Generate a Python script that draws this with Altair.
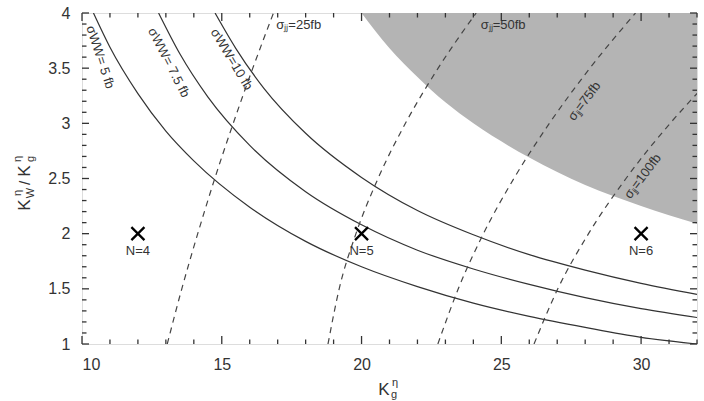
import altair as alt
import pandas as pd

# ---- data ----
ww5_x = [10.41, 11, 12, 13, 14, 16, 18, 20, 22, 24, 26, 28, 30, 32]
ww5_y = [4.0, 3.69, 3.27, 2.93, 2.66, 2.24, 1.93, 1.70, 1.52, 1.37, 1.25, 1.15, 1.06, 1.0]
ww75_x = [12.74, 13.5, 14.5, 16, 18, 20, 22, 24, 26, 28, 30, 32]
ww75_y = [4.0, 3.63, 3.24, 2.80, 2.38, 2.08, 1.85, 1.68, 1.54, 1.42, 1.32, 1.24]
ww10_x = [14.76, 15.5, 16.5, 18, 20, 22, 24, 26, 28, 30, 32]
ww10_y = [4.0, 3.68, 3.32, 2.91, 2.51, 2.21, 1.99, 1.81, 1.67, 1.55, 1.45]

jj_y = [1.0, 1.5, 2.0, 2.5, 3.0, 3.5, 4.0]
jj25_x = [13.05, 13.57, 14.14, 14.75, 15.41, 16.11, 16.85]
jj50_x = [18.8, 19.2, 19.8, 20.59, 21.57, 22.74, 24.1]
jj75_x = [22.73, 23.46, 24.36, 25.45, 26.72, 28.17, 29.8]
jj100_y = [1.0, 1.5, 2.0, 2.5, 3.0, 3.3]
jj100_x = [26.17, 27.02, 28.12, 29.46, 31.04, 32.11]

shade_x = [20, 21, 22, 23, 24, 26, 28, 30, 32]
shade_y = [4.0, 3.68, 3.42, 3.19, 3.0, 2.69, 2.44, 2.25, 2.09]

pts_x = [12, 20, 30]
pts_y = [2, 2, 2]
pts_lab = ["N=4", "N=5", "N=6"]

ww_lab = ["σWW= 5 fb", "σWW= 7.5 fb", "σWW=10 fb"]
ww_lab_x = [10.65, 13.1, 15.35]
ww_lab_y = [3.60, 3.55, 3.58]
ww_lab_ang = [72, 63, 59]

jj_lab = ["σⱼⱼ=25fb", "σⱼⱼ=50fb"]
jj_lab_x = [16.95, 24.26]
jj_lab_y = [3.89, 3.89]

jj_rot_lab = ["σⱼⱼ=75fb", "σⱼⱼ=100fb"]
jj_rot_x = [27.97, 30.06]
jj_rot_y = [3.2, 2.52]
jj_rot_ang = [307, 307]

x_major = [10, 15, 20, 25, 30]
x_minor = [v for v in range(10, 33) if v not in x_major]
y_major = [1, 1.5, 2, 2.5, 3, 3.5, 4]
y_minor = [round(1 + 0.1 * i, 1) for i in range(31) if i % 5 != 0]

# ---- tables ----
solid = pd.concat([
    pd.DataFrame({"x": ww5_x, "y": ww5_y, "c": "5"}),
    pd.DataFrame({"x": ww75_x, "y": ww75_y, "c": "7.5"}),
    pd.DataFrame({"x": ww10_x, "y": ww10_y, "c": "10"}),
])
dashed = pd.concat([
    pd.DataFrame({"x": jj25_x, "y": jj_y, "c": "25"}),
    pd.DataFrame({"x": jj50_x, "y": jj_y, "c": "50"}),
    pd.DataFrame({"x": jj75_x, "y": jj_y, "c": "75"}),
    pd.DataFrame({"x": jj100_x, "y": jj100_y, "c": "100"}),
])
shade = pd.DataFrame({"x": shade_x, "y": shade_y, "top": [4.0] * len(shade_x)})
pts = pd.DataFrame({"x": pts_x, "y": pts_y, "lab": pts_lab})
wwl = pd.DataFrame({"x": ww_lab_x, "y": ww_lab_y, "t": ww_lab, "a": ww_lab_ang})
jjl = pd.DataFrame({"x": jj_lab_x, "y": jj_lab_y, "t": jj_lab})
jjr = pd.DataFrame({"x": jj_rot_x, "y": jj_rot_y, "t": jj_rot_lab, "a": jj_rot_ang})

W, H = 615, 331
X0, X1, Y0, Y1 = 10, 32, 1, 4
FONT = "Liberation Sans"
TXT = "#333333"

xs = alt.Scale(domain=[X0, X1], nice=False, zero=False)
ys = alt.Scale(domain=[Y0, Y1], nice=False, zero=False)

xaxis = alt.Axis(values=x_major, ticks=False, domain=False, grid=False, title=None,
                 labelFont=FONT, labelFontSize=16, labelColor=TXT, labelPadding=12)
yaxis = alt.Axis(values=y_major, ticks=False, domain=False, grid=False, title=None, format="~g",
                 labelFont=FONT, labelFontSize=16, labelColor=TXT, labelPadding=12)

area = alt.Chart(shade).mark_area(color="#b4b4b4", clip=True, interpolate="monotone").encode(
    x=alt.X("x:Q", scale=xs, axis=xaxis),
    y=alt.Y("y:Q", scale=ys, axis=yaxis),
    y2="top:Q",
)

solid_l = alt.Chart(solid).mark_line(color="#333333", strokeWidth=1.2, clip=True,
                                     interpolate="monotone").encode(
    x=alt.X("x:Q", scale=xs), y=alt.Y("y:Q", scale=ys), detail="c:N")

dashed_l = alt.Chart(dashed).mark_line(color="#444444", strokeWidth=1.2, strokeDash=[6, 5],
                                       clip=True, interpolate="monotone").encode(
    x=alt.X("x:Q", scale=xs), y=alt.Y("y:Q", scale=ys), detail="c:N")

# inward ticks drawn as short line segments (pairs of points) in data units
py = (Y1 - Y0) / H
px = (X1 - X0) / W
rows = []
k = 0
for vals, ln in ((x_minor, 4.5), (x_major, 8)):
    for v in vals:
        rows += [{"tx": v, "ty": Y0, "id": k}, {"tx": v, "ty": Y0 + ln * py, "id": k}]
        rows += [{"tx": v, "ty": Y1, "id": k + 1}, {"tx": v, "ty": Y1 - ln * py, "id": k + 1}]
        k += 2
for vals, ln in ((y_minor, 4.5), (y_major, 7)):
    for v in vals:
        rows += [{"tx": X0, "ty": v, "id": k}, {"tx": X0 + ln * px, "ty": v, "id": k}]
        rows += [{"tx": X1, "ty": v, "id": k + 1}, {"tx": X1 - ln * px, "ty": v, "id": k + 1}]
        k += 2
tick_df = pd.DataFrame(rows)

ticks = alt.Chart(tick_df).mark_line(color="#333333", strokeWidth=1.3).encode(
    x=alt.X("tx:Q", scale=xs), y=alt.Y("ty:Q", scale=ys), detail="id:N")

points = alt.Chart(pts).mark_point(shape="M-1,-1L1,1M-1,1L1,-1", size=170, filled=False,
                                   color="#000000", strokeWidth=2.3, opacity=1).encode(
    x=alt.X("x:Q", scale=xs), y=alt.Y("y:Q", scale=ys))
plabs = alt.Chart(pts).mark_text(font=FONT, fontSize=13, color=TXT, dy=17).encode(
    x=alt.X("x:Q", scale=xs), y=alt.Y("y:Q", scale=ys), text="lab:N")

wwtext = alt.Chart(wwl).mark_text(font=FONT, fontSize=13, color=TXT, align="center",
                                  baseline="middle").encode(
    x=alt.X("x:Q", scale=xs), y=alt.Y("y:Q", scale=ys), text="t:N",
    angle=alt.Angle("a:Q", scale=None))
jjtext = alt.Chart(jjl).mark_text(font=FONT, fontSize=13, color=TXT, align="left",
                                  baseline="middle").encode(
    x=alt.X("x:Q", scale=xs), y=alt.Y("y:Q", scale=ys), text="t:N")
jjrtext = alt.Chart(jjr).mark_text(font=FONT, fontSize=13, color=TXT, align="center",
                                   baseline="middle").encode(
    x=alt.X("x:Q", scale=xs), y=alt.Y("y:Q", scale=ys), text="t:N",
    angle=alt.Angle("a:Q", scale=None))

# axis titles built from pieces (super/subscripts)
one = pd.DataFrame({"k": [0]})


def piece(txt, x, y, size, angle=0):
    return alt.Chart(one).mark_text(text=txt, font=FONT, fontSize=size, color=TXT,
                                    align="center", baseline="middle", angle=angle).encode(
        x=alt.value(x), y=alt.value(y))


titles = [piece("K", 302, 377, 17), piece("η", 313, 370, 11), piece("g", 312, 382, 11),
          piece("K", -57, 192, 17, 270), piece("η", -64, 180, 11, 270),
          piece("W", -51, 180, 11, 270), piece("/", -57, 170, 15, 270),
          piece("K", -57, 158, 17, 270), piece("η", -64, 146, 11, 270),
          piece("g", -51, 146, 11, 270)]

chart = alt.layer(area, solid_l, dashed_l, points, plabs, wwtext, jjtext, jjrtext,
                  *titles, ticks).properties(
    width=W, height=H,
    padding={"left": 82, "top": 13, "right": 7, "bottom": 57},
    autosize=alt.AutoSizeParams(type="none"),
).configure_view(stroke="#444444", strokeWidth=1.5).configure(background="white")

chart.save("out.html", embed_options={"renderer": "svg", "actions": False})
